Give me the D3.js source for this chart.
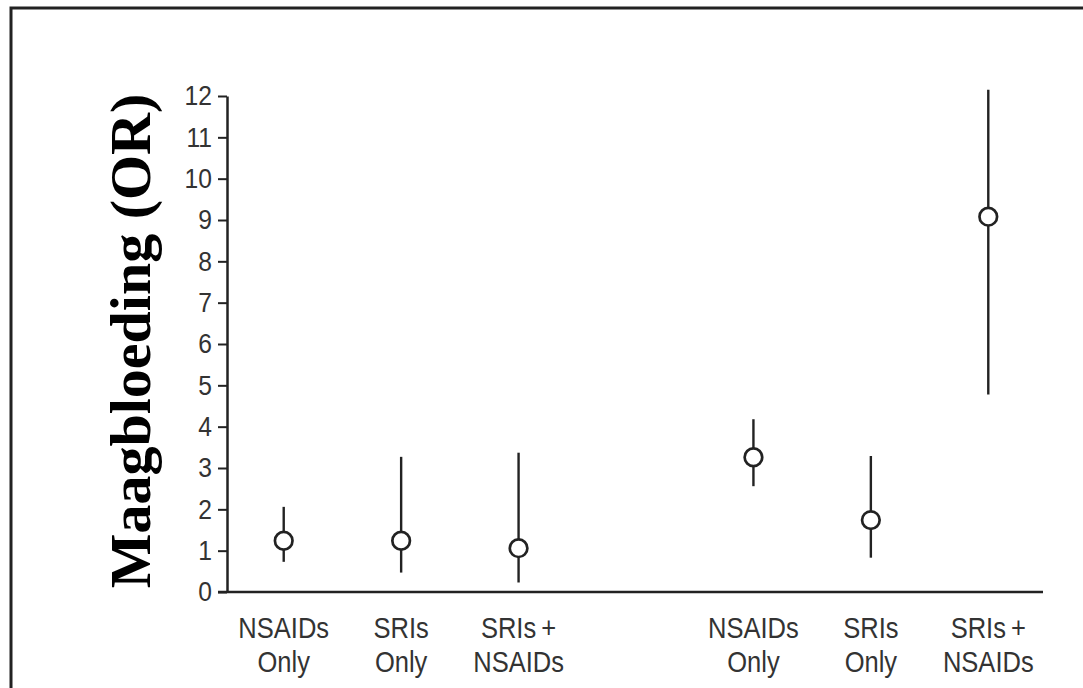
<!DOCTYPE html>
<html>
<head>
<meta charset="utf-8">
<script src="https://cdn.jsdelivr.net/npm/d3@7"></script>
<style>
  html, body { margin: 0; padding: 0; background: #fff; }
  svg { display: block; }
</style>
</head>
<body>
<svg width="1083" height="688"></svg>
<script>
// groups: first three and last three, with an empty slot between them
const labels = [["NSAIDs", "Only"], ["SRIs", "Only"], ["SRIs\u2009+", "NSAIDs"],
                ["NSAIDs", "Only"], ["SRIs", "Only"], ["SRIs\u2009+", "NSAIDs"]];
const slots = [0, 1, 2, 4, 5, 6];
const oddsRatio = [1.24, 1.24, 1.06, 3.26, 1.74, 9.08];
const lower = [0.73, 0.47, 0.23, 2.56, 0.83, 4.78];
const upper = [2.06, 3.27, 3.37, 4.18, 3.29, 12.15];
const yTicks = [0, 1, 2, 3, 4, 5, 6, 7, 8, 9, 10, 11, 12];
const yLabel = "Maagbloeding (OR)";

const width = 1083, height = 688;
const axisX = 227, axisY = 592, axisTop = 96, axisRight = 1043;
const ink = "#222";
const squeeze = 0.88; // the original uses a condensed sans

const svg = d3.select("svg");

// frame (only top and left edges show)
svg.append("path")
    .attr("d", `M11,${height} V8 H${width}`)
    .attr("fill", "none")
    .attr("stroke", ink)
    .attr("stroke-width", 3);

const y = d3.scaleLinear().domain([0, 12]).range([axisY, axisTop]);
const x = d3.scalePoint()
    .domain(d3.range(7))
    .range([225, 1047])
    .padding(0.5);

const yAxis = svg.append("g")
    .attr("transform", `translate(${axisX},0)`)
    .call(d3.axisLeft(y).tickValues(yTicks).tickSize(9).tickSizeOuter(0).tickPadding(6));
yAxis.select(".domain").attr("stroke", ink).attr("stroke-width", 2.5);
yAxis.selectAll(".tick line").attr("stroke", ink).attr("stroke-width", 2);
yAxis.selectAll(".tick text")
    .attr("fill", "#333")
    .attr("x", -15 / squeeze)
    .attr("transform", `scale(${squeeze},1)`)
    .style("font", "28px 'Liberation Sans', Arial, sans-serif");

// x axis baseline
svg.append("line")
    .attr("x1", axisX - 9).attr("x2", axisRight)
    .attr("y1", axisY).attr("y2", axisY)
    .attr("stroke", ink)
    .attr("stroke-width", 2.5);

// category labels
const cat = svg.append("g")
    .attr("fill", "#333")
    .attr("text-anchor", "middle")
    .style("font", "29px 'Liberation Sans', Arial, sans-serif")
  .selectAll("text")
  .data(labels)
  .join("text")
    .attr("transform", (d, i) => `translate(${x(slots[i])},638) scale(${squeeze},1)`);
cat.selectAll("tspan")
  .data(d => d)
  .join("tspan")
    .attr("x", 0)
    .attr("y", (d, j) => j * 34)
    .text(d => d);

// confidence intervals
svg.append("g")
  .selectAll("line")
  .data(oddsRatio)
  .join("line")
    .attr("x1", (d, i) => x(slots[i]))
    .attr("x2", (d, i) => x(slots[i]))
    .attr("y1", (d, i) => y(lower[i]))
    .attr("y2", (d, i) => y(upper[i]))
    .attr("stroke", ink)
    .attr("stroke-width", 2.4);

// point estimates
svg.append("g")
  .selectAll("circle")
  .data(oddsRatio)
  .join("circle")
    .attr("cx", (d, i) => x(slots[i]))
    .attr("cy", d => y(d))
    .attr("r", 8.8)
    .attr("fill", "#fff")
    .attr("stroke", ink)
    .attr("stroke-width", 2.7);

// y axis title
svg.append("text")
    .attr("transform", `translate(150,${(axisY + axisTop) / 2 - 3}) rotate(-90)`)
    .attr("text-anchor", "middle")
    .attr("fill", "#000")
    .style("font", "bold 58px 'Liberation Serif', 'Times New Roman', serif")
    .text(yLabel);
</script>
</body>
</html>
